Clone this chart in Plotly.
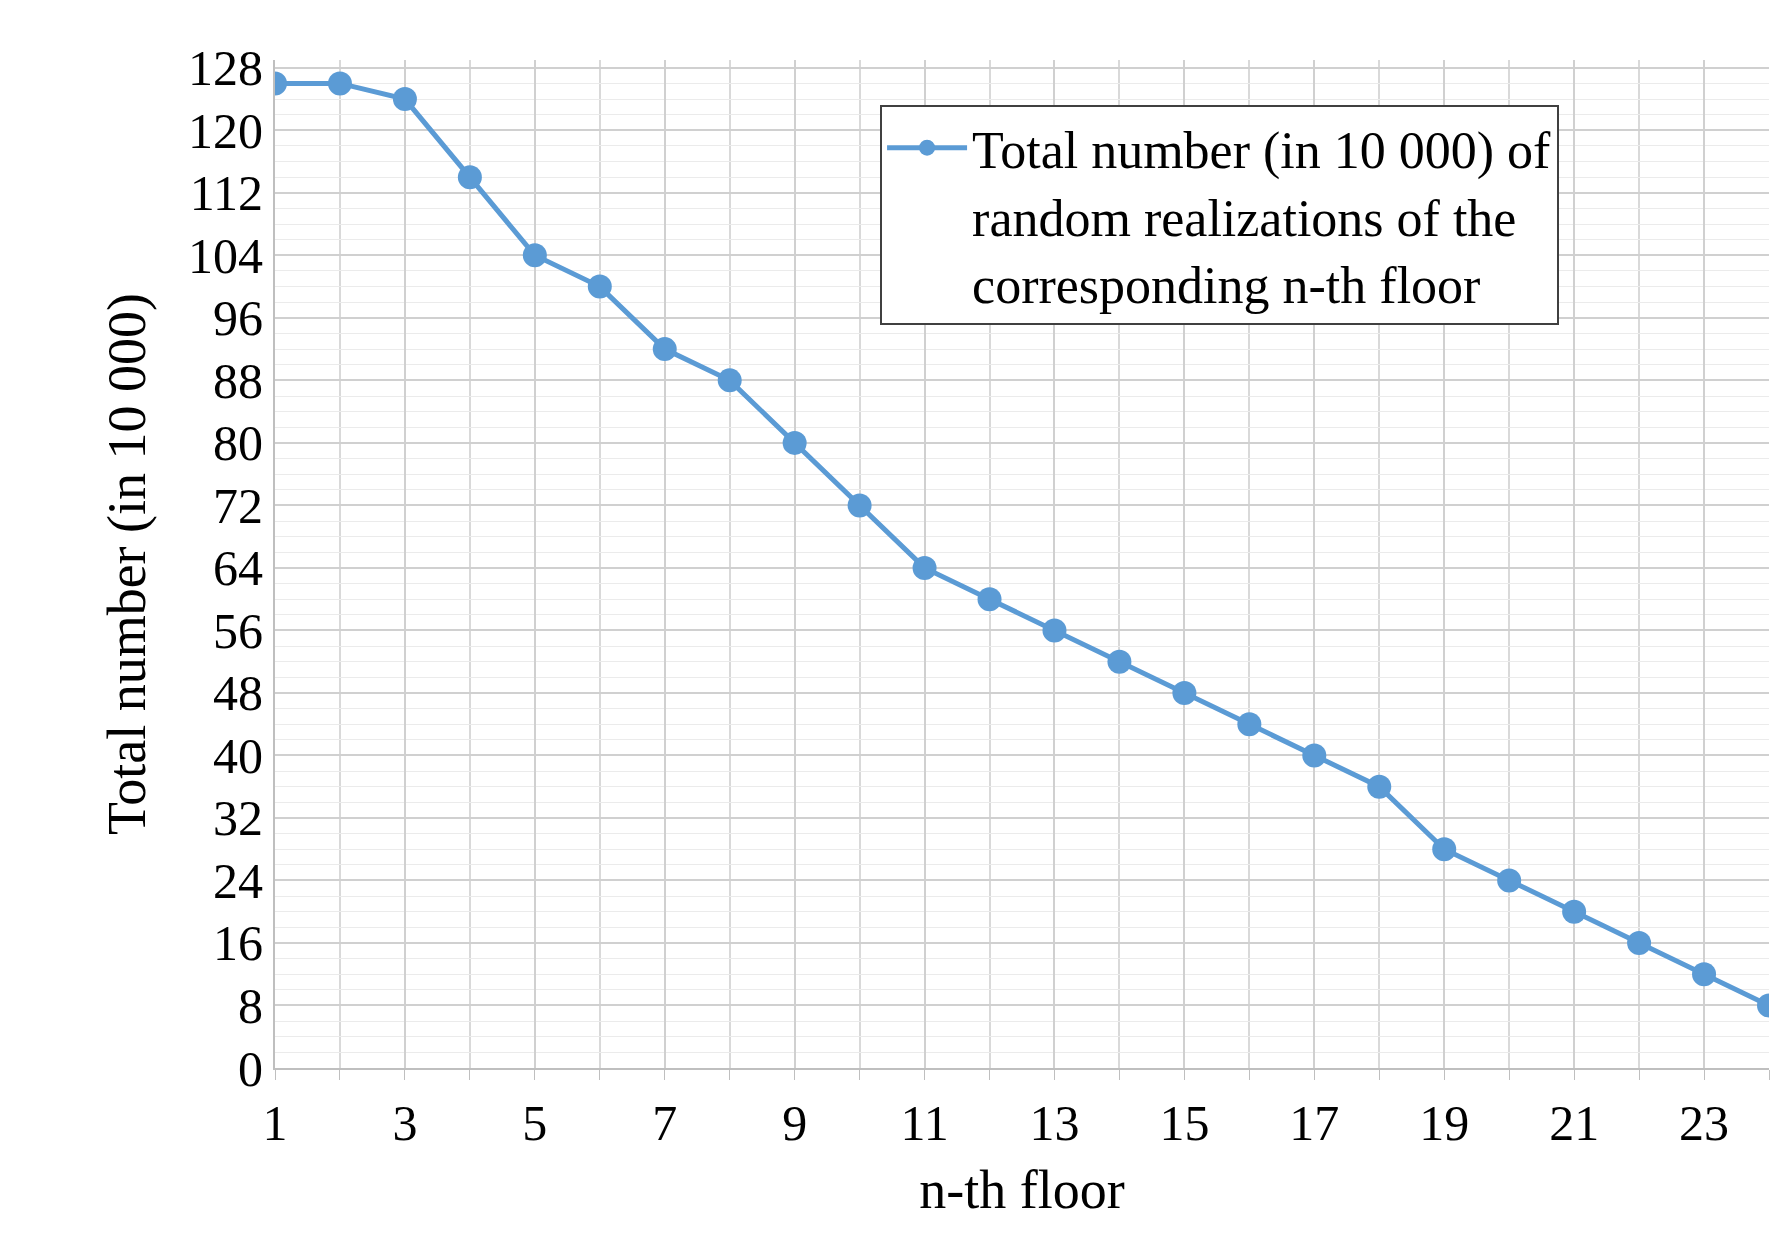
import plotly.graph_objects as go

floors = list(range(1, 25))
values = [126, 126, 124, 114, 104, 100, 92, 88, 80, 72, 64, 60, 56, 52, 48, 44, 40, 36, 28, 24, 20, 16, 12, 8]
series_name = "Total number (in 10 000) of<br>random realizations of the<br>corresponding n-th floor"

fig = go.Figure(go.Scatter(x=floors, y=values, mode="lines+markers", name=series_name,
                           line=dict(color="#5B9BD5", width=5),
                           marker=dict(size=24, color="#5B9BD5")))
font = dict(family="Liberation Serif", size=50, color="black")
fig.update_layout(
    width=1787, height=1256, plot_bgcolor="white", paper_bgcolor="white",
    margin=dict(l=267, r=26, t=52, b=196), font=font, showlegend=True,
    legend=dict(x=0.405, y=0.955, xanchor="left", yanchor="top", bordercolor="#404040",
                borderwidth=2, bgcolor="white", font=dict(family="Liberation Serif", size=52, color="black"),
                valign="top", itemwidth=80, tracegroupgap=0),
    xaxis=dict(title=dict(text="n-th floor", standoff=20, font=dict(size=54)), range=[1, 24], tick0=1, dtick=2,
               showgrid=True, gridcolor="#D0D0D0", gridwidth=2, zeroline=False,
               showline=True, linecolor="#BFBFBF", linewidth=2, ticks="outside", ticklen=10, tickcolor="#BFBFBF",
               minor=dict(dtick=1, tick0=1, showgrid=True, gridcolor="#D9D9D9", gridwidth=2, ticks="outside", ticklen=10, tickcolor="#BFBFBF")),
    yaxis=dict(title=dict(text="Total number (in 10 000)", standoff=25, font=dict(size=54)), range=[0, 129], dtick=8,
               showgrid=True, gridcolor="#D0D0D0", gridwidth=2, zeroline=False,
               showline=True, linecolor="#BFBFBF", linewidth=2,
               minor=dict(dtick=2, showgrid=True, gridcolor="#EBEBEB", gridwidth=1)),
)
fig.write_html("out.html")
